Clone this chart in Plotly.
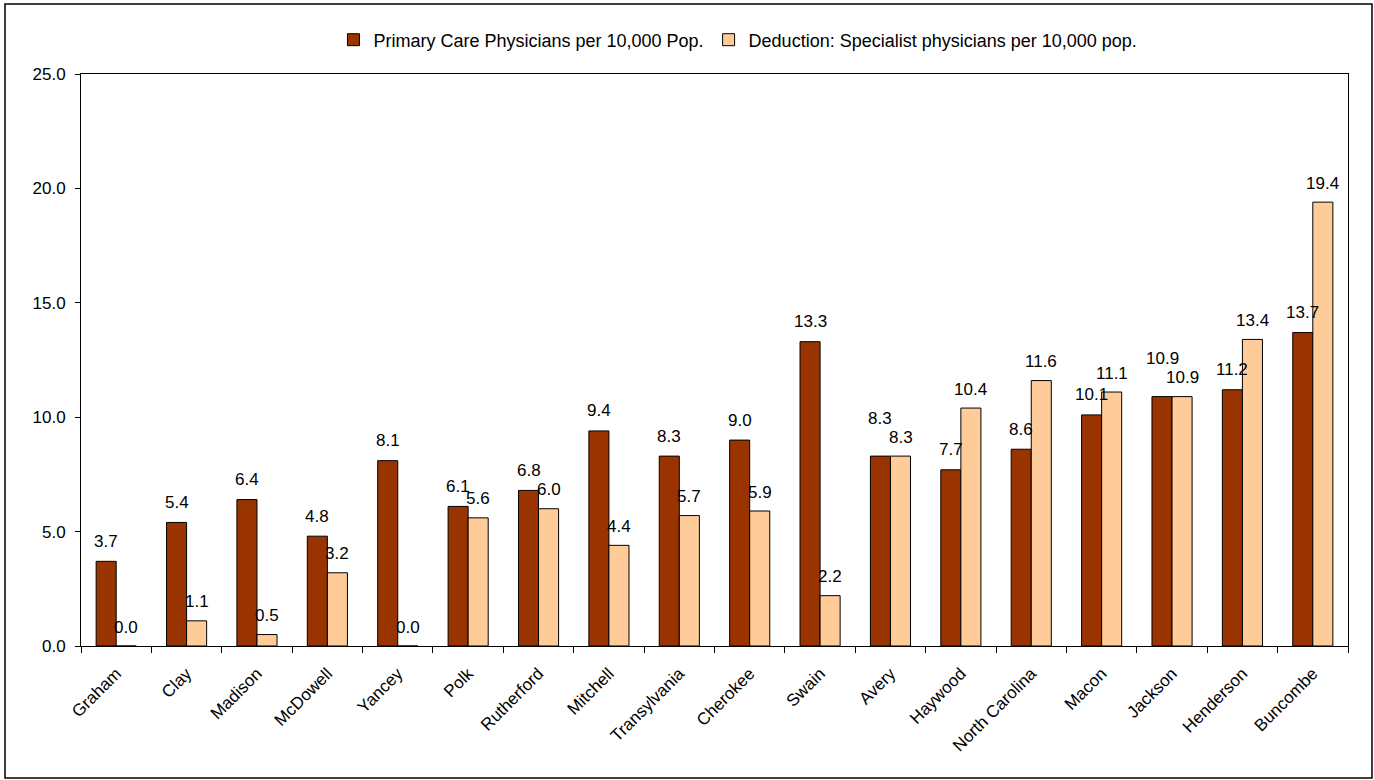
import plotly.graph_objects as go

counties = ["Graham", "Clay", "Madison", "McDowell", "Yancey", "Polk", "Rutherford",
            "Mitchell", "Transylvania", "Cherokee", "Swain", "Avery", "Haywood",
            "North Carolina", "Macon", "Jackson", "Henderson", "Buncombe"]
primary = [3.7, 5.4, 6.4, 4.8, 8.1, 6.1, 6.8, 9.4, 8.3, 9.0, 13.3, 8.3, 7.7, 8.6, 10.1, 10.9, 11.2, 13.7]
specialist = [0.0, 1.1, 0.5, 3.2, 0.0, 5.6, 6.0, 4.4, 5.7, 5.9, 2.2, 8.3, 10.4, 11.6, 11.1, 10.9, 13.4, 19.4]
y_ticks = [0, 5, 10, 15, 20, 25]

FONT = "Liberation Sans, Arial, sans-serif"
FS = 17
BW = 0.285  # bar width in category units

idx = list(range(len(counties)))

fig = go.Figure()
fig.add_trace(go.Bar(
    x=idx, y=primary, name="Primary Care Physicians per 10,000 Pop.",
    width=BW, offset=-BW,
    marker=dict(color="#993300", line=dict(color="black", width=1)),
))
fig.add_trace(go.Bar(
    x=idx, y=specialist, name="Deduction: Specialist physicians per 10,000 pop.",
    width=BW, offset=0,
    marker=dict(color="#FFCC99", line=dict(color="black", width=1)),
))

annotations = []
for i, (p, s) in enumerate(zip(primary, specialist)):
    annotations.append(dict(x=i - BW / 2, y=p, xref="x", yref="y", text=f"{p:.1f}",
                            showarrow=False, yanchor="middle", xanchor="center",
                            yshift=20 + (18 if p == s else 0),
                            font=dict(size=FS, family=FONT, color="black")))
    annotations.append(dict(x=i + BW / 2, y=s, xref="x", yref="y", text=f"{s:.1f}",
                            showarrow=False, yanchor="middle", xanchor="center",
                            yshift=19,
                            font=dict(size=FS, family=FONT, color="black")))

L, R, T, B = 81, 1348, 74, 646
W, H = 1374, 780
pw, ph = R - L, B - T

def px(x):
    return (x - L) / pw

def py(y):
    return (B - y) / ph

fig.update_layout(
    width=W, height=H,
    margin=dict(l=L, r=W - R, t=T, b=H - B, pad=0),
    paper_bgcolor="white", plot_bgcolor="white",
    font=dict(family=FONT, size=FS, color="black"),
    barmode="overlay",
    showlegend=True,
    legend=dict(orientation="h", x=0.5185, xanchor="center", y=py(40), yanchor="middle",
                font=dict(size=18, family=FONT), traceorder="normal",
                itemwidth=30),
    xaxis=dict(range=[-0.5, len(counties) - 0.5], tickvals=idx, ticktext=counties,
               showline=True, linecolor="black", linewidth=1, mirror=True,
               ticks="", tickangle=-45, tickfont=dict(size=FS), showgrid=False,
               zeroline=False, ticklabelstandoff=10,
               minor=dict(tickvals=[i - 0.5 for i in idx] + [len(counties) - 0.5],
                          ticks="outside", ticklen=6, tickcolor="black", showgrid=False)),
    yaxis=dict(range=[0, 25], tickvals=y_ticks, tickformat=".1f", showline=True,
               linecolor="black", linewidth=1, mirror=True, ticks="outside", ticklen=5,
               tickcolor="black", showgrid=False, zeroline=False, tickfont=dict(size=FS),
               ticklabelstandoff=6),
    annotations=annotations,
    shapes=[dict(type="rect", xref="paper", yref="paper",
                 x0=px(5), x1=px(1372), y0=py(778), y1=py(4),
                 line=dict(color="black", width=1.5), fillcolor="rgba(0,0,0,0)", layer="below")],
)

fig.write_html("out.html", config={"displayModeBar": False},
               post_script="document.body.style.margin='0px';")
